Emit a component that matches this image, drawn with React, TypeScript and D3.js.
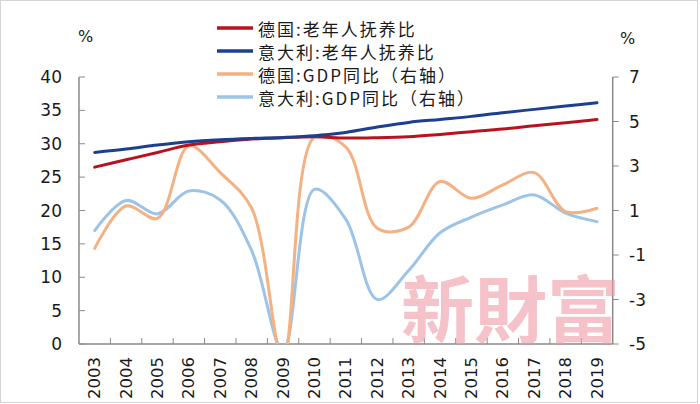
import { useEffect, useRef } from "react";
import * as d3 from "d3";

const years = ["2003", "2004", "2005", "2006", "2007", "2008", "2009", "2010", "2011", "2012", "2013", "2014", "2015", "2016", "2017", "2018", "2019"];
const deOldAge = [26.5, 27.6, 28.7, 29.8, 30.3, 30.7, 30.9, 31.05, 30.85, 30.9, 31.05, 31.4, 31.8, 32.2, 32.7, 33.15, 33.65];
const itOldAge = [28.7, 29.2, 29.8, 30.3, 30.6, 30.8, 30.95, 31.2, 31.7, 32.5, 33.2, 33.65, 34.1, 34.65, 35.15, 35.65, 36.15];
const deGdp = [-0.7, 1.2, 0.65, 3.9, 2.7, 1.1, -5.7, 4.3, 3.85, 0.2, 0.25, 2.3, 1.55, 2.15, 2.7, 0.95, 1.1];
const itGdp = [0.1, 1.45, 0.85, 1.88, 1.47, -0.8, -5.3, 1.95, 0.6, -3.0, -1.7, 0.0, 0.7, 1.25, 1.7, 0.88, 0.5];
const leftTicks = [0, 5, 10, 15, 20, 25, 30, 35, 40];
const rightTicks = [-5, -3, -1, 1, 3, 5, 7];

const legendItems = [
  { name: "德国:老年人抚养比", color: "#b8121f" },
  { name: "意大利:老年人抚养比", color: "#1c3f8e" },
  { name: "德国:GDP同比（右轴）", color: "#f4b183" },
  { name: "意大利:GDP同比（右轴）", color: "#9dc3e6" },
];

const W = 700;
const H = 404;
const left = 79;
const right = 612.7;
const top = 77;
const bottom = 344;

export default function App() {
  const ref = useRef<SVGSVGElement>(null);

  useEffect(() => {
    const svg = d3.select(ref.current);
    svg.selectAll("*").remove();

    const x = d3.scaleBand().domain(years).range([left, right]);
    const yL = d3.scaleLinear().domain([0, 40]).range([bottom, top]);
    const yR = d3.scaleLinear().domain([-5, 7]).range([bottom, top]);
    const num = "'DejaVu Sans', Verdana, sans-serif";
    const cjk = "'Noto Sans CJK SC', sans-serif";
    const txt = "#1a1a1a";
    const axisColor = "#8a8a8a";

    svg.append("rect").attr("x", 0.5).attr("y", 0.5).attr("width", W - 3).attr("height", H - 2)
      .attr("fill", "#fff").attr("stroke", "#d4d4d4");

    svg.append("defs").append("clipPath").attr("id", "plot")
      .append("rect").attr("x", left).attr("y", 0).attr("width", right - left).attr("height", bottom);

    // axes
    const g = svg.append("g");
    g.append("line").attr("x1", left).attr("x2", left).attr("y1", top).attr("y2", bottom).attr("stroke", axisColor).attr("stroke-width", 1.5);
    g.append("line").attr("x1", right).attr("x2", right).attr("y1", top).attr("y2", bottom).attr("stroke", axisColor).attr("stroke-width", 1.5);
    g.append("line").attr("x1", left).attr("x2", right).attr("y1", bottom).attr("y2", bottom).attr("stroke", axisColor).attr("stroke-width", 1.5);

    leftTicks.forEach((t) => {
      g.append("line").attr("x1", left).attr("x2", left + 6).attr("y1", yL(t)).attr("y2", yL(t)).attr("stroke", axisColor);
      g.append("text").attr("x", 62).attr("y", yL(t)).attr("text-anchor", "end").attr("dominant-baseline", "central")
        .attr("font-family", num).attr("font-size", 17).attr("fill", txt).text(t);
    });
    rightTicks.forEach((t) => {
      g.append("line").attr("x1", right).attr("x2", right + 6).attr("y1", yR(t)).attr("y2", yR(t)).attr("stroke", axisColor);
      g.append("text").attr("x", 629).attr("y", yR(t)).attr("dominant-baseline", "central")
        .attr("font-family", num).attr("font-size", 17).attr("fill", txt).text(t);
    });
    years.forEach((yr, i) => {
      const bx = x(yr)! + x.bandwidth();
      if (i < years.length - 1) {
        g.append("line").attr("x1", bx).attr("x2", bx).attr("y1", bottom).attr("y2", bottom - 6).attr("stroke", axisColor);
      }
      const cx = x(yr)! + x.bandwidth() / 2;
      g.append("text").attr("transform", `translate(${cx},357) rotate(-90)`).attr("text-anchor", "end")
        .attr("dominant-baseline", "central").attr("font-family", num).attr("font-size", 16.5).attr("fill", txt).text(yr);
    });

    g.append("text").attr("x", 78).attr("y", 36).attr("dominant-baseline", "central").attr("font-family", num)
      .attr("font-size", 16).attr("fill", txt).text("%");
    g.append("text").attr("x", 620).attr("y", 38).attr("dominant-baseline", "central").attr("font-family", num)
      .attr("font-size", 16).attr("fill", txt).text("%");

    // lines
    const lines = svg.append("g").attr("clip-path", "url(#plot)");
    const cx = (i: number) => x(years[i])! + x.bandwidth() / 2;
    const mk = (scale: d3.ScaleLinear<number, number>) =>
      d3.line<number>().x((_, i) => cx(i)).y((d) => scale(d)).curve(d3.curveCatmullRom.alpha(0.5));

    const series = [
      { vals: itGdp, scale: yR, color: legendItems[3].color },
      { vals: deGdp, scale: yR, color: legendItems[2].color },
      { vals: deOldAge, scale: yL, color: legendItems[0].color },
      { vals: itOldAge, scale: yL, color: legendItems[1].color },
    ];
    series.forEach((s) => {
      lines.append("path").attr("d", mk(s.scale)(s.vals)).attr("fill", "none").attr("stroke", s.color)
        .attr("stroke-width", 3).attr("stroke-linejoin", "round").attr("stroke-linecap", "round");
    });

    // legend
    const lg = svg.append("g");
    legendItems.forEach((it, i) => {
      const ly = 28 + i * 23;
      lg.append("line").attr("x1", 217).attr("x2", 253).attr("y1", ly).attr("y2", ly).attr("stroke", it.color).attr("stroke-width", 3.5);
      lg.append("text").attr("x", 258).attr("y", ly).attr("dominant-baseline", "central").attr("font-family", cjk)
        .attr("font-size", 17).attr("letter-spacing", 2).attr("fill", txt).text(it.name);
    });

    // watermark
    svg.append("text").attr("x", 401).attr("y", 305).attr("dominant-baseline", "central").attr("font-family", cjk)
      .attr("font-size", 73).attr("font-weight", 700).attr("fill", "#f09aa6").attr("opacity", 0.6).text("新財富");
  }, []);

  return (
    <svg ref={ref} width={W} height={H} style={{ position: "absolute", left: 0, top: 0, background: "#fff" }} />
  );
}
